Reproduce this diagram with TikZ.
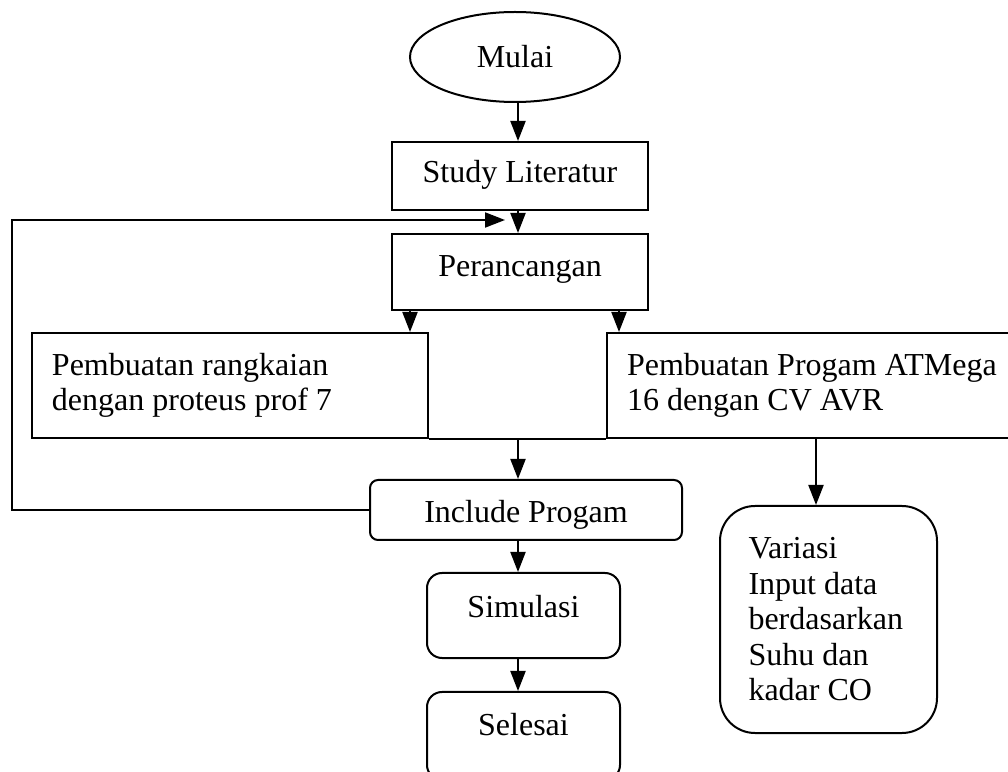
\documentclass[tikz,border=0pt]{standalone}
\usepackage{fontspec}
\setmainfont{Liberation Serif}
\usepackage{tikz}
\usetikzlibrary{positioning}
\usetikzlibrary{shapes.geometric, arrows.meta}

\tikzset{
    stepbox/.style={draw, rectangle, inner xsep=0pt, inner ysep=0pt},
    roundbox/.style={stepbox, rounded corners=#1},
    textbox/.style={stepbox, inner xsep=#1, align=flush left}
}

\begin{document}
\begin{tikzpicture}[x=0.4pt, y=-0.4pt, line width=0.8pt,
    >={Triangle[length=8pt,width=6pt]},
    font=\fontsize{12.8}{14.2}\selectfont]
    \useasboundingbox (0,0) rectangle (1008,772);
    \clip (0,0) rectangle (1008,772);

    % lines the arrows run along
    \coordinate (axis) at (518,0);
    \coordinate (axl) at (410,0);
    \coordinate (axr) at (619,0);
    \coordinate (axv) at (816,0);

    % start
    \node [ellipse, draw, minimum width=84pt, minimum height=36pt, inner sep=0pt] (mulai) at (515,57) {Mulai};

    % study and design
    \node [stepbox, minimum width=102.4pt, text height=16.4pt, text depth=10.8pt] (study) at (520,176) {Study Literatur};
    \node [stepbox, minimum width=102.4pt, text height=17.2pt, text depth=13.2pt] (design) at (520,272) {Perancangan};

    % the two work boxes
    \node [textbox=8pt, text width=142.4pt, minimum height=42pt] (circuit) at (230,385.5) {Pembuatan rangkaian\\dengan proteus prof 7};
    \node [textbox=8pt, text width=152pt, minimum height=42pt] (program) at (817,385.5) {Pembuatan Progam ATMega\\16 dengan CV AVR};

    % include, simulate, end
    \node [roundbox=3.2pt, minimum width=124.8pt, text height=17.2pt, text depth=6.8pt] (include) at (526,510) {Include Progam};
    \node [roundbox=6pt, minimum width=77.2pt, text height=18pt, text depth=16pt] (simulasi) at (523.5,615.5) {Simulasi};
    \node [roundbox=6pt, minimum width=77.2pt, text height=17.6pt, text depth=17.6pt] (selesai) at (523.5,736) {Selesai};

    % input data
    \node [textbox=11.4pt, rounded corners=14pt, text width=64pt, minimum height=90.8pt] (variasi) at (828.5,619.5) {Variasi\\Input data\\berdasarkan\\Suhu dan\\kadar CO};

    % arrows
    \draw [->] (mulai.south -| axis) -- (study.north -| axis);
    \draw [->] (study.south -| axis) -- (design.north -| axis);
    \draw [->] (design.south -| axl) -- (circuit.north -| axl);
    \draw [->] (design.south -| axr) -- (program.north -| axr);
    \draw (circuit.south east) -- (program.south west);
    \draw [->] (circuit.south -| axis) -- (include.north -| axis);
    \draw [->] (program.south -| axv) -- (variasi.north -| axv);
    \draw [->] (include.south -| axis) -- (simulasi.north -| axis);
    \draw [->] (simulasi.south -| axis) -- (selesai.north -| axis);

    % back to the design
    \coordinate (loopc) at (12,220);
    \coordinate (loopend) at (505,220);
    \draw [->] (include.west) -| (loopc) -- (loopend);

\end{tikzpicture}
\end{document}
